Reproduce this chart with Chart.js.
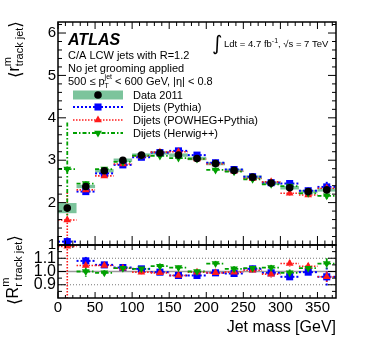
<!DOCTYPE html>
<html>
<head>
<meta charset="utf-8">
<script src="https://cdn.jsdelivr.net/npm/chart.js@4.4.1/dist/chart.umd.min.js"></script>
<style>
  html, body { margin: 0; padding: 0; background: #fff; }
  #wrap { position: relative; width: 366px; height: 351px; }
</style>
</head>
<body>
<div id="wrap"><canvas id="chart" width="366" height="351"></canvas></div>
<script>
// jet mass bins (GeV), 25 GeV wide
const massCenters = [12.5, 37.5, 62.5, 87.5, 112.5, 137.5, 162.5, 187.5, 212.5, 237.5, 262.5, 287.5, 312.5, 337.5, 362.5];
const binHalfWidth = 12.5;

// <r^m_track jet> per bin
const dataMean = [1.87, 2.38, 2.75, 3.00, 3.12, 3.17, 3.12, 3.04, 2.92, 2.76, 2.60, 2.46, 2.35, 2.26, 2.30];
const dataStat = [0.03, 0.02, 0.02, 0.02, 0.02, 0.02, 0.02, 0.02, 0.02, 0.02, 0.02, 0.02, 0.03, 0.03, 0.04];
const dataSyst = [0.12, 0.04, 0.04, 0.04, 0.04, 0.04, 0.04, 0.04, 0.04, 0.04, 0.04, 0.04, 0.04, 0.04, 0.04];

const pythiaMean = [1.08, 2.26, 2.69, 2.89, 3.07, 3.18, 3.22, 3.12, 2.94, 2.78, 2.61, 2.47, 2.45, 2.28, 2.37];
const pythiaErr  = [0.10, 0.04, 0.03, 0.03, 0.03, 0.03, 0.03, 0.03, 0.03, 0.03, 0.03, 0.04, 0.05, 0.04, 0.12];
const powhegMean = [1.59, 2.30, 2.63, 2.91, 3.10, 3.19, 3.20, 3.03, 2.91, 2.74, 2.57, 2.49, 2.22, 2.18, 2.34];
const powhegErr  = [0.65, 0.04, 0.04, 0.03, 0.03, 0.04, 0.04, 0.04, 0.04, 0.04, 0.04, 0.06, 0.05, 0.05, 0.08];
const herwigMean = [2.79, 2.45, 2.79, 2.96, 3.11, 3.10, 3.05, 3.03, 2.77, 2.73, 2.55, 2.43, 2.39, 2.22, 2.16];
const herwigErr  = [1.10, 0.05, 0.05, 0.04, 0.04, 0.05, 0.05, 0.05, 0.06, 0.05, 0.05, 0.05, 0.06, 0.06, 0.10];

// ratio panel (data / MC)
const pythiaRatio    = [null, 1.08, 1.05, 1.03, 1.02, 0.995, 0.97, 0.97, 0.99, 0.985, 1.02, 0.99, 0.96, 0.995, 0.96];
const pythiaRatioErr = [0, 0.03, 0.02, 0.015, 0.015, 0.015, 0.015, 0.015, 0.015, 0.015, 0.015, 0.02, 0.03, 0.02, 0.07];
const powhegRatio    = [1.19, 1.045, 1.045, 1.025, 0.995, 0.99, 0.97, 0.995, 0.99, 0.995, 1.01, 0.98, 1.06, 1.04, 0.96];
const powhegRatioErr = [0.5, 0.02, 0.02, 0.015, 0.015, 0.015, 0.015, 0.015, 0.015, 0.015, 0.02, 0.025, 0.025, 0.025, 0.04];
const herwigRatio    = [null, 1.0, 0.99, 1.025, 1.02, 1.04, 1.03, 1.0, 1.06, 1.02, 1.025, 1.03, 0.99, 1.025, 1.06];
const herwigRatioErr = [0, 0.04, 0.02, 0.015, 0.015, 0.02, 0.015, 0.015, 0.02, 0.02, 0.02, 0.02, 0.025, 0.03, 0.04];

// axis labels
const massTicks = [0, 50, 100, 150, 200, 250, 300, 350];
const meanTicks = [1, 2, 3, 4, 5, 6];
const ratioTicks = [0.9, 1.0, 1.1];

const FONT = "'Liberation Sans', Arial, Helvetica, sans-serif";
const bandColor = "#7cc49c";

const series = [
    { label: "Dijets (Pythia)", color: "#0000ff", dash: [2, 2], width: 2, style: "rect", radius: 5, rotation: 0,
      mean: pythiaMean, err: pythiaErr, ratio: pythiaRatio, ratioErr: pythiaRatioErr },
    { label: "Dijets (POWHEG+Pythia)", color: "#ff1a1a", dash: [1.5, 1.5], width: 1.6, style: "triangle", radius: 4.5, rotation: 0,
      mean: powhegMean, err: powhegErr, ratio: powhegRatio, ratioErr: powhegRatioErr },
    { label: "Dijets (Herwig++)", color: "#00a000", dash: [4, 2, 1.5, 2], width: 1.8, style: "triangle", radius: 4.5, rotation: 180,
      mean: herwigMean, err: herwigErr, ratio: herwigRatio, ratioErr: herwigRatioErr },
];

function points(values) {
    return massCenters.map(function (m, i) {
        return { x: m, y: values[i] };
    });
}

function buildDatasets() {
    var sets = [];
    // data on top -> order 0
    sets.push({
        label: "Data 2011",
        data: points(dataMean),
        yAxisID: "y",
        order: 0,
        pointStyle: "circle",
        pointRadius: 3.8,
        pointBackgroundColor: "#000",
        pointBorderColor: "#000",
        pointBorderWidth: 0,
    });
    series.forEach(function (s, k) {
        sets.push({
            label: s.label,
            data: points(s.mean),
            yAxisID: "y",
            order: 3 - k,
            pointStyle: s.style,
            pointRotation: s.rotation,
            pointRadius: s.radius,
            pointBackgroundColor: s.color,
            pointBorderColor: s.color,
            pointBorderWidth: 0,
            errors: s.err,
            look: s,
        });
        sets.push({
            label: s.label + " ratio",
            data: points(s.ratio),
            yAxisID: "yr",
            order: 3 - k,
            pointStyle: s.style,
            pointRotation: s.rotation,
            pointRadius: s.radius,
            pointBackgroundColor: s.color,
            pointBorderColor: s.color,
            pointBorderWidth: 0,
            errors: s.ratioErr,
            look: s,
        });
    });
    return sets;
}

function clipTo(ctx, chart, scale) {
    ctx.beginPath();
    ctx.rect(chart.chartArea.left, scale.top, chart.chartArea.right - chart.chartArea.left, scale.bottom - scale.top);
    ctx.clip();
}

function line(ctx, x0, y0, x1, y1) {
    ctx.beginPath();
    ctx.moveTo(x0, y0);
    ctx.lineTo(x1, y1);
    ctx.stroke();
}

const errorBars = {
    id: "errorBars",
    beforeDatasetsDraw(chart) {
        const ctx = chart.ctx;
        const xs = chart.scales.x, ys = chart.scales.y, yr = chart.scales.yr;

        // data systematic band
        ctx.save();
        clipTo(ctx, chart, ys);
        ctx.fillStyle = bandColor;
        dataMean.forEach(function (v, i) {
            const x0 = xs.getPixelForValue(massCenters[i] - binHalfWidth);
            const x1 = xs.getPixelForValue(massCenters[i] + binHalfWidth);
            const y0 = ys.getPixelForValue(v + dataSyst[i]);
            const y1 = ys.getPixelForValue(v - dataSyst[i]);
            ctx.fillRect(x0, y0, x1 - x0, y1 - y0);
        });
        ctx.strokeStyle = "#000";
        ctx.lineWidth = 1;
        dataMean.forEach(function (v, i) {
            const px = xs.getPixelForValue(massCenters[i]);
            line(ctx, px, ys.getPixelForValue(v + dataStat[i]), px, ys.getPixelForValue(v - dataStat[i]));
        });
        ctx.restore();

        // ratio reference lines
        ctx.save();
        clipTo(ctx, chart, yr);
        const L = chart.chartArea.left, R = chart.chartArea.right;
        ctx.strokeStyle = "#9a9a9a";
        ctx.lineWidth = 1.5;
        line(ctx, L, yr.getPixelForValue(1.0), R, yr.getPixelForValue(1.0));
        ctx.setLineDash([1, 2]);
        ctx.lineWidth = 1;
        ctx.strokeStyle = "#777";
        line(ctx, L, yr.getPixelForValue(1.1), R, yr.getPixelForValue(1.1));
        line(ctx, L, yr.getPixelForValue(0.9), R, yr.getPixelForValue(0.9));
        ctx.restore();

        // MC bin lines and error bars
        chart.data.datasets.forEach(function (ds) {
            if (!ds.errors) return;
            const sc = chart.scales[ds.yAxisID];
            const s = ds.look;
            ctx.save();
            clipTo(ctx, chart, sc);
            ctx.strokeStyle = s.color;
            ctx.lineWidth = s.width;
            ctx.setLineDash(s.dash);
            ds.data.forEach(function (p, i) {
                if (p.y == null) return;
                const py = sc.getPixelForValue(p.y);
                const px = xs.getPixelForValue(p.x);
                line(ctx, xs.getPixelForValue(p.x - binHalfWidth), py, xs.getPixelForValue(p.x + binHalfWidth), py);
                const e = ds.errors[i];
                if (e > 0) {
                    line(ctx, px, sc.getPixelForValue(p.y + e), px, sc.getPixelForValue(p.y - e));
                }
            });
            ctx.restore();
        });
    },
};

function stepValues(from, to, step) {
    const out = [];
    for (let k = 0; from + k * step <= to + 1e-9; k++) out.push(+(from + k * step).toFixed(4));
    return out;
}

function segWidth(ctx, s) {
    ctx.font = s.font;
    if (s.sup != null || s.sub != null) {
        return Math.max(ctx.measureText(s.sup || "").width, ctx.measureText(s.sub || "").width);
    }
    return ctx.measureText(s.t).width;
}

function richWidth(ctx, segs) {
    return segs.reduce(function (w, s) { return w + segWidth(ctx, s); }, 0);
}

function drawRich(ctx, segs, x, y) {
    segs.forEach(function (s) {
        ctx.font = s.font;
        if (s.sup != null || s.sub != null) {
            if (s.sup) ctx.fillText(s.sup, x, y + s.supDy);
            if (s.sub) ctx.fillText(s.sub, x, y + s.subDy);
        } else {
            ctx.fillText(s.t, x, y + (s.dy || 0));
        }
        x += segWidth(ctx, s);
    });
}

function marker(ctx, style, x, y, r, rotation) {
    Chart.helpers.drawPoint(ctx, { pointStyle: style, radius: r, rotation: rotation || 0, borderWidth: 0 }, x, y);
}

const frame = {
    id: "frame",
    afterDraw(chart) {
        const ctx = chart.ctx;
        const xs = chart.scales.x, ys = chart.scales.y, yr = chart.scales.yr;
        const L = chart.chartArea.left, R = chart.chartArea.right;
        const minorMass = stepValues(0, 370, 10);
        const isMajorMass = function (v) { return v % 50 === 0; };

        ctx.save();
        ctx.strokeStyle = "#000";
        ctx.lineWidth = 1;
        // x ticks on both panels
        minorMass.forEach(function (v) {
            const px = xs.getPixelForValue(v);
            const maj = isMajorMass(v);
            line(ctx, px, ys.top, px, ys.top + (maj ? 7 : 4));
            line(ctx, px, ys.bottom, px, ys.bottom - (maj ? 9 : 4.5));
            line(ctx, px, yr.top, px, yr.top + (maj ? 5 : 3));
            line(ctx, px, yr.bottom, px, yr.bottom - (maj ? 6 : 3));
        });
        // y ticks top panel
        stepValues(1, 6.2, 0.2).forEach(function (v) {
            const py = ys.getPixelForValue(v);
            const maj = Math.abs(v - Math.round(v)) < 1e-6;
            const len = maj ? 8 : 4;
            line(ctx, L, py, L + len, py);
            line(ctx, R, py, R - len, py);
        });
        // y ticks ratio panel
        stepValues(0.85, 1.15, 0.05).forEach(function (v) {
            const py = yr.getPixelForValue(v);
            const maj = ratioTicks.some(function (t) { return Math.abs(t - v) < 1e-6; });
            const len = maj ? 8 : 4;
            line(ctx, L, py, L + len, py);
            line(ctx, R, py, R - len, py);
        });
        // frames
        ctx.lineWidth = 1.5;
        ctx.strokeRect(L, ys.top, R - L, ys.bottom - ys.top);
        ctx.strokeRect(L, yr.top, R - L, yr.bottom - yr.top);
        ctx.restore();

        // tick labels
        ctx.save();
        ctx.fillStyle = "#000";
        ctx.font = "15px " + FONT;
        ctx.textAlign = "center";
        ctx.textBaseline = "middle";
        massTicks.forEach(function (v) {
            ctx.fillText(String(v), xs.getPixelForValue(v), yr.bottom + 10);
        });
        ctx.textAlign = "right";
        ctx.save();
        ctx.beginPath();
        ctx.rect(0, 0, L, ys.bottom + 5);
        ctx.clip();
        meanTicks.forEach(function (v) {
            ctx.fillText(String(v), L - 2, ys.getPixelForValue(v));
        });
        ctx.restore();
        ctx.font = "16px " + FONT;
        ratioTicks.forEach(function (v) {
            ctx.fillText(v.toFixed(1), L - 2, yr.getPixelForValue(v));
        });

        // axis title
        ctx.textBaseline = "alphabetic";
        ctx.font = "16px " + FONT;
        ctx.fillText("Jet mass [GeV]", R, yr.bottom + 34);

        // y titles (rotated)
        ctx.textAlign = "left";
        const topTitle = [
            { t: "\u27E8", font: "17px 'DejaVu Sans'", dy: 2 },
            { t: "r", font: "16px " + FONT },
            { sup: "m", sub: "track jet", font: "11px " + FONT, supDy: -8, subDy: 4 },
            { t: "\u27E9", font: "17px 'DejaVu Sans'", dy: 2 },
        ];
        ctx.save();
        ctx.translate(19, ys.top - 1);
        ctx.rotate(-Math.PI / 2);
        drawRich(ctx, topTitle, -richWidth(ctx, topTitle), 0);
        ctx.restore();
        const botTitle = [
            { t: "\u27E8", font: "17px 'DejaVu Sans'", dy: 2 },
            { t: "R", font: "16px " + FONT },
            { sup: "m", sub: "r track jet", font: "11px " + FONT, supDy: -9, subDy: 4 },
            { t: "\u27E9", font: "17px 'DejaVu Sans'", dy: 2 },
        ];
        ctx.save();
        ctx.translate(18, yr.top - 10);
        ctx.rotate(-Math.PI / 2);
        drawRich(ctx, botTitle, -richWidth(ctx, botTitle), 0);
        ctx.restore();

        // ATLAS labels
        ctx.font = "italic bold 16px " + FONT;
        ctx.fillText("ATLAS", 68, 45);
        ctx.font = "11px " + FONT;
        ctx.fillText("C/A LCW jets with R=1.2", 68, 59);
        ctx.fillText("No jet grooming applied", 68, 72);
        drawRich(ctx, [
            { t: "500 \u2264 p", font: "11px " + FONT },
            { sup: "jet", sub: "T", font: "7px " + FONT, supDy: -6, subDy: 3 },
            { t: " < 600 GeV, |\u03B7| < 0.8", font: "11px " + FONT },
        ], 68, 85);

        // luminosity
        ctx.font = "20px 'DejaVu Sans'";
        ctx.fillText("\u222B", 212, 50);
        drawRich(ctx, [
            { t: "Ldt = 4.7 fb", font: "9.5px " + FONT },
            { sup: "-1", sub: "", font: "7px " + FONT, supDy: -4, subDy: 0 },
            { t: ", \u221As = 7 TeV", font: "9.5px " + FONT },
        ], 224, 47);

        // legend
        const lx0 = 73, lx1 = 123, lxm = 98, tx = 133;
        const rows = [95, 107, 120, 133];
        ctx.fillStyle = bandColor;
        ctx.fillRect(lx0, rows[0] - 4.5, lx1 - lx0, 9);
        ctx.fillStyle = "#000";
        marker(ctx, "circle", lxm, rows[0], 3.8);
        series.forEach(function (s, k) {
            const y = rows[k + 1];
            ctx.save();
            ctx.strokeStyle = s.color;
            ctx.lineWidth = s.width;
            ctx.setLineDash(s.dash);
            line(ctx, lx0, y, lx1, y);
            ctx.restore();
            ctx.fillStyle = s.color;
            marker(ctx, s.style, lxm, y, s.radius, s.rotation);
        });
        ctx.fillStyle = "#000";
        ctx.font = "11px " + FONT;
        ctx.fillText("Data 2011", tx, rows[0] + 4);
        series.forEach(function (s, k) {
            ctx.fillText(s.label, tx, rows[k + 1] + 4);
        });
        ctx.restore();
    },
};

const hidden = { display: false };
const noGrid = { display: false, drawTicks: false, tickLength: 0 };

const chart = new Chart(document.getElementById("chart"), {
    type: "scatter",
    data: { datasets: buildDatasets() },
    options: {
        responsive: false,
        animation: false,
        devicePixelRatio: 1,
        layout: { padding: { left: 58, right: 30, top: 22, bottom: 53 } },
        plugins: { legend: hidden, tooltip: { enabled: false } },
        scales: {
            x: {
                type: "linear", min: 0, max: 375, position: "bottom",
                ticks: hidden, grid: noGrid, border: hidden,
            },
            y: {
                type: "linear", min: 1, max: 6.26, position: "left",
                stack: "panels", stackWeight: 223, weight: 1,
                ticks: hidden, grid: noGrid, border: hidden,
            },
            yr: {
                type: "linear", min: 0.8, max: 1.2, position: "left",
                stack: "panels", stackWeight: 53, weight: 0,
                ticks: hidden, grid: noGrid, border: hidden,
            },
        },
    },
    plugins: [errorBars, frame],
});
</script>
</body>
</html>
